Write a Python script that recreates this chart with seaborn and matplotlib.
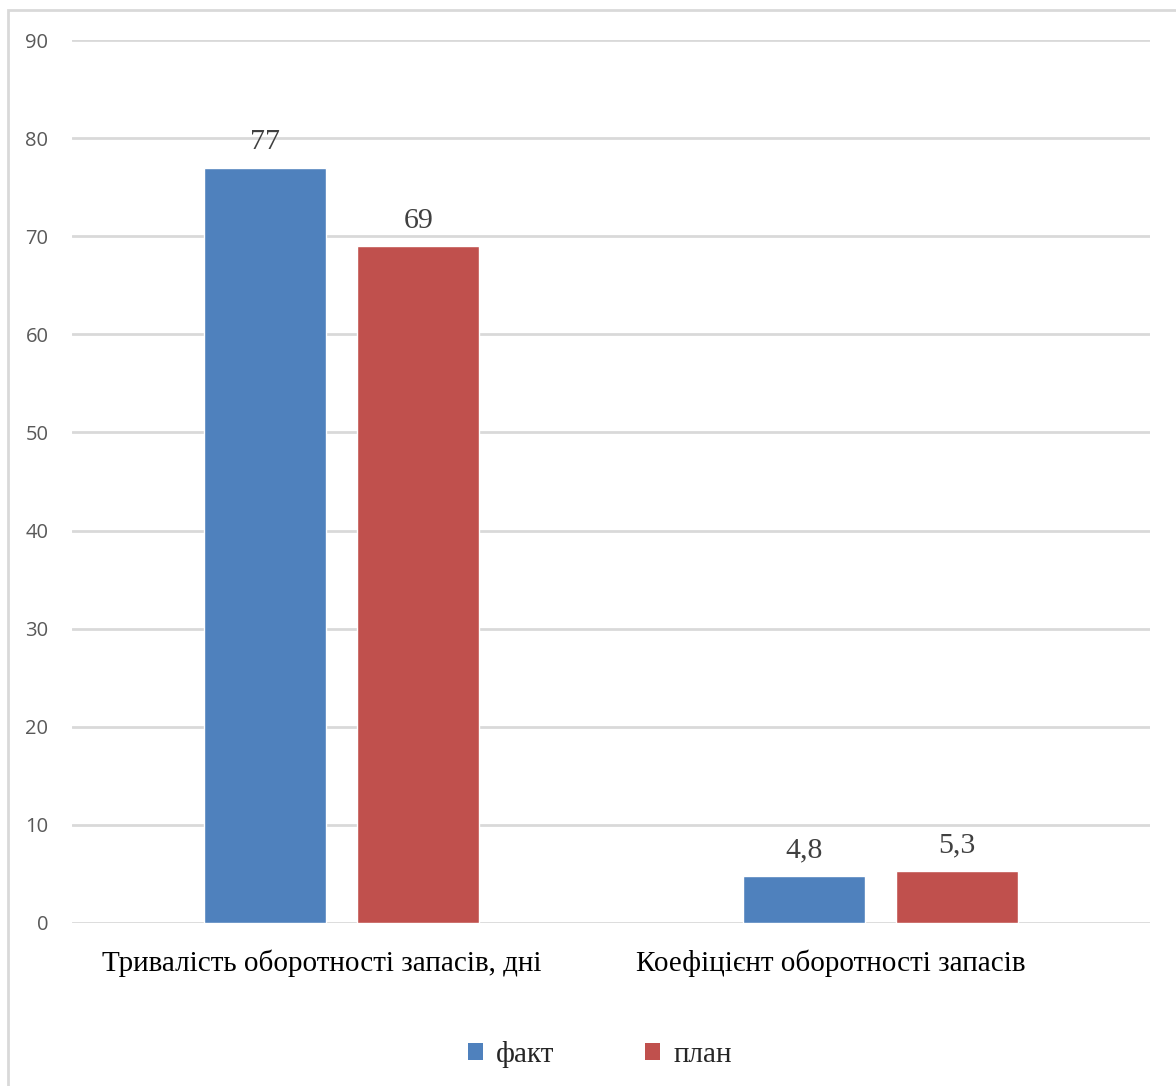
import matplotlib
matplotlib.use("Agg")
import matplotlib.pyplot as plt
import matplotlib.transforms as mtransforms
from matplotlib.patches import Patch, Rectangle
import seaborn as sns
import pandas as pd

# Data
categories = ["Тривалість оборотності запасів, дні", "Коефіцієнт оборотності запасів"]
series_names = ["факт", "план"]
fact_values = [77, 4.8]
plan_values = [69, 5.3]
y_ticks = [0, 10, 20, 30, 40, 50, 60, 70, 80, 90]

colors = ["#4F81BD", "#C0504D"]
grid_color = "#D9D9D9"

df = pd.DataFrame({
    "category": categories * 2,
    "series": [series_names[0]] * 2 + [series_names[1]] * 2,
    "value": fact_values + plan_values,
})

sns.set_theme(style="white")
plt.rcParams["font.family"] = ["Liberation Serif", "DejaVu Serif"]

W, H = 1176, 1086
fig = plt.figure(figsize=(W / 100, H / 100), dpi=100)
fig.subplots_adjust(left=72 / W, right=1150 / W, top=1 - 40 / H, bottom=1 - 923 / H)
ax = fig.add_subplot(111)

sns.barplot(data=df, x="category", y="value", hue="series", order=categories,
            hue_order=series_names, palette=colors, width=0.57, gap=0.208,
            saturation=1, legend=False, ax=ax)

ax.set_ylim(0, 90)
ax.set_yticks(y_ticks)
ax.set_xlim(-0.5, 1.5)
ax.set_xlabel("")
ax.set_ylabel("")
for s in ax.spines.values():
    s.set_visible(False)
ax.yaxis.grid(True, color=grid_color, linewidth=2)
ax.xaxis.grid(False)
ax.set_axisbelow(True)
ax.tick_params(axis="y", length=0, pad=17, labelsize=14.5, labelcolor="#595959")
ax.tick_params(axis="x", length=0, pad=19, labelsize=21, labelcolor="black")
for lbl in ax.get_yticklabels():
    lbl.set_fontfamily(["Open Sans", "DejaVu Sans"])

# Category labels sit slightly left of their group centres
for lbl, dx in zip(ax.get_xticklabels(), [-20, -50]):
    lbl.set_transform(lbl.get_transform() +
                      mtransforms.ScaledTranslation(dx / 100, 0, fig.dpi_scale_trans))

# Value labels with comma as decimal separator
for cont in ax.containers:
    vals = [b.get_height() for b in cont]
    ax.bar_label(cont, labels=[f"{v:g}".replace(".", ",") for v in vals],
                 padding=9, fontsize=21.5, color="#404040")

# Legend at the bottom
handles = [Patch(facecolor=c, edgecolor="none") for c in colors]
fig.legend(handles, series_names, loc="center", bbox_to_anchor=(600 / W, 1 - 1054 / H),
           ncol=2, frameon=False, fontsize=21, handlelength=0.52, handleheight=0.52,
           handletextpad=0.45, columnspacing=3.1)

# Chart area frame
fig.patches.append(Rectangle((8 / W, -0.05), 1.1, 1 - 10 / H + 0.05,
                             transform=fig.transFigure, fill=False,
                             edgecolor=grid_color, linewidth=2))

fig.savefig("out.png", dpi=100, facecolor="white")
